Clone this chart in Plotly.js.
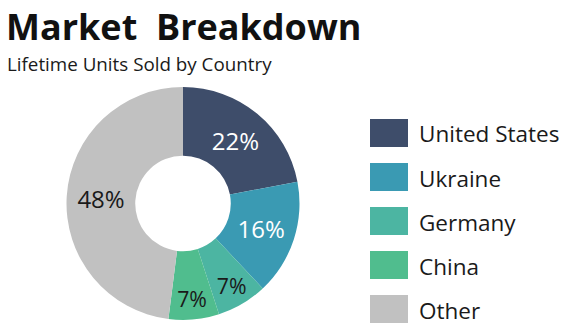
<!DOCTYPE html>
<html>
<head>
<meta charset="utf-8">
<script src="https://cdn.plot.ly/plotly-3.0.1.min.js"></script>
<style>html,body{margin:0;padding:0;background:#fff;}#chart{width:588px;height:328px;}</style>
</head>
<body>
<div id="chart"></div>
<script>
const countries = ["United States", "Ukraine", "Germany", "China", "Other"];
const shares = [22, 16, 7, 7, 48];
const sliceColors = ["#3E4D6A", "#3A9AB3", "#4CB5A2", "#50BD8E", "#C1C1C1"];
const labelColors = ["#FFFFFF", "#FFFFFF", "#1A1A1A", "#1A1A1A", "#1A1A1A"];

const W = 588, H = 328;
const px = x => x / W, py = y => 1 - y / H;

const shapes = [], annotations = [];
countries.forEach((c, i) => {
  const cy = 133 + i * 44;
  shapes.push({type: "rect", xref: "paper", yref: "paper",
    x0: px(370), x1: px(408), y0: py(cy + 14), y1: py(cy - 14),
    fillcolor: sliceColors[i], line: {width: 0}});
  annotations.push({xref: "paper", yref: "paper", x: px(417), y: py(cy + 1),
    xanchor: "left", yanchor: "middle", showarrow: false, text: c,
    font: {family: "Open Sans, sans-serif", size: 22.5, color: "#1A1A1A"}});
});
annotations.push({xref: "paper", yref: "paper", x: px(4), y: py(0), xanchor: "left", yanchor: "top",
  showarrow: false, text: "Market\u00A0\u00A0Breakdown",
  font: {family: "Open Sans, sans-serif", size: 36, color: "#111", weight: 700}});
annotations.push({xref: "paper", yref: "paper", x: px(5), y: py(49), xanchor: "left", yanchor: "top",
  showarrow: false, text: "Lifetime Units Sold by Country",
  font: {family: "Open Sans, sans-serif", size: 18.8, color: "#1A1A1A"}});

const trace = {
  type: "pie", labels: countries, values: shares, sort: false, direction: "clockwise",
  rotation: 0, hole: 0.41,
  marker: {colors: sliceColors, line: {width: 0}},
  texttemplate: "%{value}%", textinfo: "text", textposition: "inside",
  insidetextorientation: "horizontal",
  insidetextfont: {family: "Open Sans, sans-serif", size: 24, color: labelColors},
  showlegend: false, hoverinfo: "none",
  domain: {x: [px(66), px(300)], y: [py(320), py(87)]}
};

Plotly.newPlot("chart", [trace], {
  width: W, height: H, margin: {l: 0, r: 0, t: 0, b: 0},
  paper_bgcolor: "#fff", plot_bgcolor: "#fff",
  showlegend: false, shapes: shapes, annotations: annotations
}, {displayModeBar: false, staticPlot: true});
</script>
</body>
</html>
